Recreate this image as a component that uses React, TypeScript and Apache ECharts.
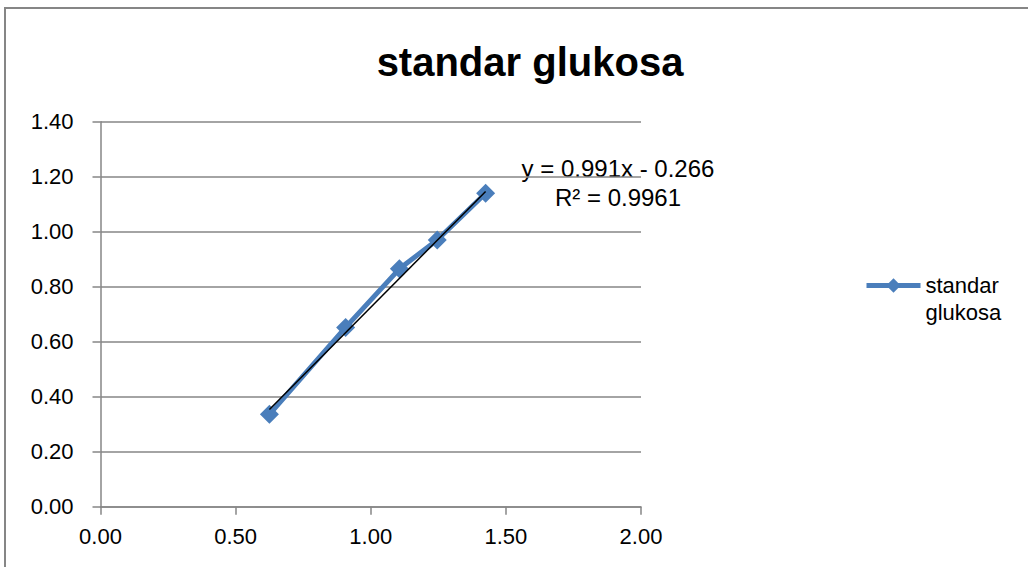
import React, { useEffect, useRef } from "react";
import * as echarts from "echarts";

const seriesName = "standar glukosa";
const legendLabel = "\nstandar\nglukosa";
const xValues = [0.625, 0.907, 1.106, 1.246, 1.425];
const yValues = [0.336, 0.652, 0.865, 0.97, 1.14];
const slope = 0.991;
const intercept = -0.266;
const equationText = "y = 0.991x - 0.266";
const r2Text = "R² = 0.9961";
const xTicks = { min: 0, max: 2, interval: 0.5 };
const yTicks = { min: 0, max: 1.4, interval: 0.2 };

const FONT = "'Liberation Sans', sans-serif";
const GRAY = "#868686";
const BLUE = "#4A7EBB";

export default function App() {
  const ref = useRef<HTMLDivElement>(null);
  useEffect(() => {
    if (!ref.current) return;
    const chart = echarts.init(ref.current, null, { renderer: "svg" });
    const pts = xValues.map((x, i) => [x, yValues[i]]);
    const tx0 = Math.min(...xValues);
    const tx1 = Math.max(...xValues);
    const trend = [
      [tx0, slope * tx0 + intercept],
      [tx1, slope * tx1 + intercept],
    ];
    chart.setOption({
      animation: false,
      backgroundColor: "#fff",
      title: {
        text: seriesName,
        left: 530,
        textAlign: "center",
        top: 42,
        padding: 0,
        textStyle: { fontFamily: FONT, fontSize: 40, fontWeight: "bold", color: "#000" },
      },
      grid: { left: 100.5, top: 121.7, right: 387, bottom: 60.3, containLabel: false },
      legend: {
        data: [seriesName],
        left: 864,
        top: 245,
        padding: 0,
        orient: "vertical",
        itemWidth: 54,
        itemHeight: 18,
        itemGap: 4,
        lineStyle: { width: 5 },
        formatter: () => legendLabel,
        textStyle: { fontFamily: FONT, fontSize: 22, color: "#000", lineHeight: 27 },
      },
      xAxis: {
        type: "value",
        min: xTicks.min,
        max: xTicks.max,
        interval: xTicks.interval,
        axisLine: { lineStyle: { color: GRAY, width: 1.5 } },
        axisTick: { show: true, length: 8, lineStyle: { color: GRAY, width: 1.5 } },
        axisLabel: { formatter: (v: number) => v.toFixed(2), fontFamily: FONT, fontSize: 22, color: "#000", margin: 19 },
        splitLine: { show: false },
      },
      yAxis: {
        type: "value",
        min: yTicks.min,
        max: yTicks.max,
        interval: yTicks.interval,
        axisLine: { show: true, lineStyle: { color: GRAY, width: 1.5 } },
        axisTick: { show: true, length: 8, lineStyle: { color: GRAY, width: 1.5 } },
        axisLabel: { formatter: (v: number) => v.toFixed(2), fontFamily: FONT, fontSize: 22, color: "#000", margin: 27 },
        splitLine: { show: true, lineStyle: { color: GRAY, width: 1.5 } },
      },
      series: [
        {
          name: seriesName,
          type: "line",
          data: pts,
          symbol: "diamond",
          symbolSize: 19,
          lineStyle: { color: BLUE, width: 5 },
          itemStyle: { color: BLUE },
          z: 2,
        },
        {
          name: "trend",
          type: "line",
          data: trend,
          symbol: "none",
          lineStyle: { color: "#000", width: 1.5 },
          z: 3,
          silent: true,
        },
      ],
      graphic: [
        {
          type: "rect",
          shape: { x: 5, y: 8, width: 1100, height: 700 },
          style: { fill: "none", stroke: GRAY, lineWidth: 2 },
          silent: true,
        },
        {
          type: "text",
          x: 618,
          y: 168,
          style: { text: equationText, fontFamily: FONT, fontSize: 24, fill: "#000", align: "center", verticalAlign: "middle" },
        },
        {
          type: "text",
          x: 618,
          y: 197,
          style: { text: r2Text, fontFamily: FONT, fontSize: 24, fill: "#000", align: "center", verticalAlign: "middle" },
        },
      ],
    });
    return () => chart.dispose();
  }, []);
  return <div ref={ref} style={{ position: "fixed", left: 0, top: 0, width: 1028, height: 567 }} />;
}
